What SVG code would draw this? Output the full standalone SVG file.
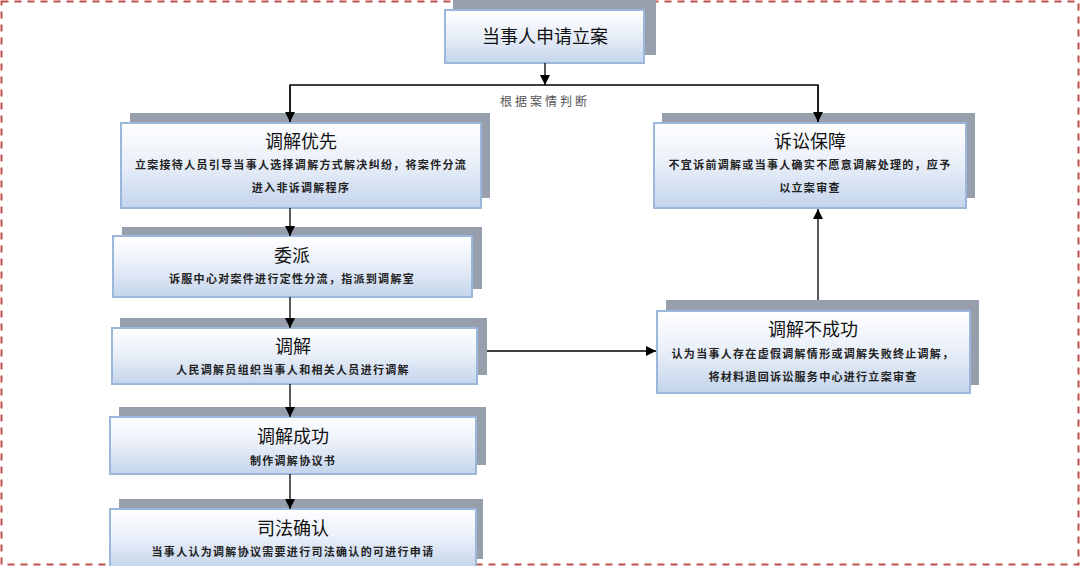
<svg xmlns="http://www.w3.org/2000/svg" width="1080" height="566" viewBox="0 0 1080 566">
<defs>
<linearGradient id="g" x1="0" y1="0" x2="0" y2="1">
<stop offset="0" stop-color="#ffffff"/>
<stop offset="0.5" stop-color="#e8eef8"/>
<stop offset="1" stop-color="#c3d4ec"/>
</linearGradient>
<marker id="ah" viewBox="0 0 10 10" refX="10" refY="5" markerWidth="10" markerHeight="10" markerUnits="userSpaceOnUse" orient="auto">
<path d="M0,0 L10,5 L0,10 z" fill="#000"/>
</marker>
</defs>
<style>
.sh{fill:#979fac}
.bx{fill:url(#g);stroke:#9bb8dc;stroke-width:2}
.t{font-family:"Noto Sans CJK SC","Noto Sans",sans-serif;font-size:18px;fill:#111;text-anchor:middle}
.s{font-family:"Noto Sans CJK SC","Noto Sans",sans-serif;font-size:11px;fill:#222;text-anchor:middle;letter-spacing:1.3px;font-weight:bold}
.c{stroke:#000;stroke-width:1.3;fill:none}
</style>
<rect width="1080" height="566" fill="#fff"/>
<rect x="1.5" y="1.5" width="1077" height="563" fill="none" stroke="#c0504d" stroke-width="2" stroke-dasharray="7,6"/>
<g id="n-apply">
<rect class="sh" x="453" y="0" width="203" height="55"/>
<rect class="bx" x="445" y="10" width="199" height="53"/>
<text class="t" x="545" y="43">当事人申请立案</text>
</g>
<g id="n-priority">
<rect class="sh" x="130" y="113" width="360" height="85"/>
<rect class="bx" x="121" y="123" width="360" height="85"/>
<text class="t" x="301" y="148">调解优先</text>
<text class="s" x="301" y="169">立案接待人员引导当事人选择调解方式解决纠纷，将案件分流</text>
<text class="s" x="301" y="192">进入非诉调解程序</text>
</g>
<g id="n-assign">
<rect class="sh" x="122" y="227" width="360" height="62"/>
<rect class="bx" x="113" y="236" width="359" height="61"/>
<text class="t" x="292" y="262">委派</text>
<text class="s" x="292" y="283">诉服中心对案件进行定性分流，指派到调解室</text>
</g>
<g id="n-mediate">
<rect class="sh" x="120" y="318" width="367" height="57"/>
<rect class="bx" x="112" y="328" width="365" height="56"/>
<text class="t" x="293" y="353">调解</text>
<text class="s" x="293" y="374">人民调解员组织当事人和相关人员进行调解</text>
</g>
<g id="n-success">
<rect class="sh" x="119" y="407" width="367" height="58"/>
<rect class="bx" x="110" y="417" width="366" height="57"/>
<text class="t" x="293" y="443">调解成功</text>
<text class="s" x="293" y="465">制作调解协议书</text>
</g>
<g id="n-confirm">
<rect class="sh" x="119" y="499" width="364" height="60"/>
<rect class="bx" x="110" y="509" width="366" height="60"/>
<text class="t" x="293" y="535">司法确认</text>
<text class="s" x="293" y="556">当事人认为调解协议需要进行司法确认的可进行申请</text>
</g>
<g id="n-litigation">
<rect class="sh" x="662" y="113" width="313" height="85"/>
<rect class="bx" x="654" y="123" width="312" height="85"/>
<text class="t" x="810" y="148">诉讼保障</text>
<text class="s" x="810" y="169">不宜诉前调解或当事人确实不愿意调解处理的，应予</text>
<text class="s" x="810" y="192">以立案审查</text>
</g>
<g id="n-fail">
<rect class="sh" x="666" y="300" width="313" height="85"/>
<rect class="bx" x="657" y="311" width="313" height="82"/>
<text class="t" x="813" y="336">调解不成功</text>
<text class="s" x="813" y="358">认为当事人存在虚假调解情形或调解失败终止调解，</text>
<text class="s" x="813" y="381">将材料退回诉讼服务中心进行立案审查</text>
</g>
<g id="connectors">
<line class="c" x1="545" y1="63" x2="545" y2="85" marker-end="url(#ah)"/>
<polyline class="c" points="290,122 290,85 818,85 818,122"/>
<line class="c" x1="290" y1="85" x2="290" y2="122" marker-end="url(#ah)"/>
<line class="c" x1="818" y1="85" x2="818" y2="122" marker-end="url(#ah)"/>
<text x="545" y="106" font-family="'Noto Sans CJK SC',sans-serif" font-size="12" fill="#555" text-anchor="middle" letter-spacing="3">根据案情判断</text>
<line class="c" x1="290" y1="208" x2="290" y2="236" marker-end="url(#ah)"/>
<line class="c" x1="290" y1="297" x2="290" y2="328" marker-end="url(#ah)"/>
<line class="c" x1="290" y1="384" x2="290" y2="417" marker-end="url(#ah)"/>
<line class="c" x1="290" y1="474" x2="290" y2="509" marker-end="url(#ah)"/>
<line class="c" x1="487" y1="351" x2="656" y2="351" marker-end="url(#ah)"/>
<line class="c" x1="818" y1="300" x2="818" y2="209" marker-end="url(#ah)"/>
</g>
</svg>
